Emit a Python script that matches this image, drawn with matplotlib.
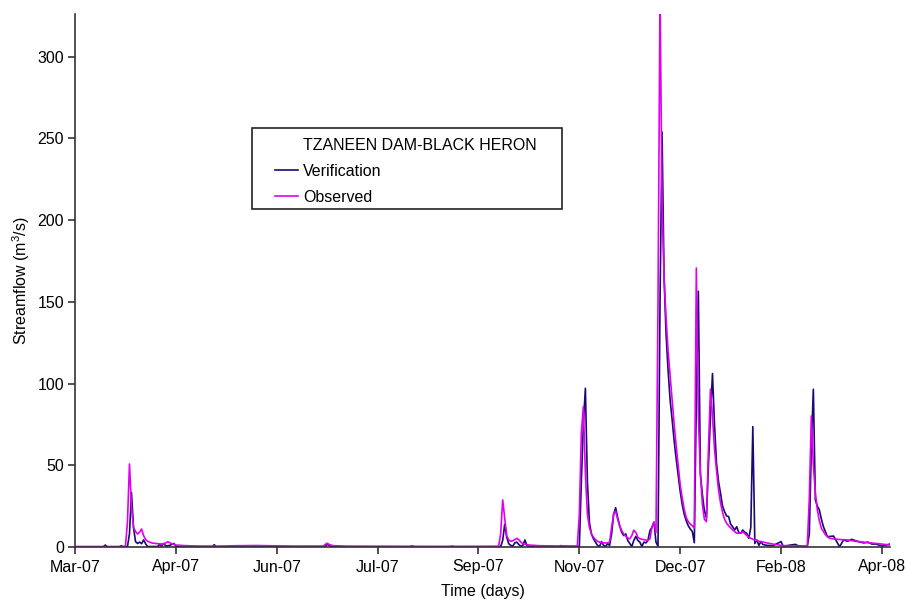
import matplotlib
matplotlib.use('Agg')
import matplotlib.pyplot as plt
import matplotlib.dates as mdates
from matplotlib.lines import Line2D
from matplotlib.patches import Rectangle
import pandas as pd

plt.rcParams['font.family'] = ['Liberation Sans', 'DejaVu Sans']
plt.rcParams['mathtext.fontset'] = 'custom'
plt.rcParams['mathtext.rm'] = 'Liberation Sans'

# record starts on 1 March 2007, days counted from there
start = pd.Timestamp('2007-03-01')

# observed streamflow (m3/s) at Tzaneen Dam - Black Heron
obs_day = [0, 24, 25, 26, 27, 28, 29, 30, 31, 32, 33, 34, 35, 36, 38, 41, 44, 46, 48, 50,
           55, 60, 70, 80, 90, 100, 110, 123, 124, 125, 126, 128, 135, 160, 180,
           210, 211, 212, 213, 214, 215, 216, 217, 219, 220, 221, 222, 225, 230, 240,
           249, 250, 251, 252, 253, 254, 255, 256, 257, 258, 259, 260, 262, 264, 265,
           266, 267, 268, 269, 270, 271, 272, 273, 274, 275, 276, 277, 278, 279, 280,
           282, 284, 285, 286, 287, 288, 289, 290, 291, 292, 293, 294, 295, 296, 297,
           298, 299, 300, 301, 302, 303, 304, 305, 306, 307, 308, 309, 310, 311, 312,
           313, 314, 315, 316, 317, 318, 319, 320, 321, 322, 323, 324, 326, 328, 330,
           331, 333, 335, 337, 340, 343, 346, 350, 354, 363, 364, 365, 366, 367, 368,
           369, 370, 372, 374, 377, 380, 383, 387, 390, 393, 397, 401, 404]
obs_flow = [0.3, 0.3, 0.6, 15, 50.8, 25, 12, 9.5, 8, 9, 11, 7, 4.5, 3.5, 2.5, 2, 1.8, 3.2, 2, 1.2,
            0.8, 0.6, 0.5, 0.8, 0.9, 0.7, 0.5, 0.5, 1.5, 2.3, 1.5, 0.8, 0.5, 0.4, 0.3,
            0.4, 8, 28.8, 18, 7, 4.3, 3.5, 3.8, 5.3, 4.5, 3, 2, 1.2, 0.8, 0.6,
            0.6, 20, 70, 85.9, 45, 20, 12, 8, 6, 4.5, 3.5, 3, 2.5, 2.5, 3,
            12, 20, 21.9, 17, 13, 10, 8, 6.5, 5.5, 5, 7, 10.3, 9, 6, 5,
            4.5, 4, 5, 12, 14.9, 8.8, 150, 340, 210, 165, 140, 120, 105, 90, 75,
            62, 50, 38, 30, 23, 18, 15.5, 14, 13, 11.5, 170.6, 80, 45, 26, 17,
            15.5, 60, 96.5, 80, 60, 47, 35, 27, 21, 17, 14.5, 13, 10.5, 8.4, 8.5,
            9.4, 7, 5.3, 4.2, 3.3, 2.5, 1.8, 1.0, 0.6, 0.5, 30, 80.2, 50, 33, 22.6,
            16, 11.4, 7.5, 5.3, 4.8, 4.5, 4.3, 3.5, 3.1, 2.6, 2.2, 1.6, 1.2]

# simulated streamflow for the verification period
ver_day = [0, 14, 15, 16, 22, 23, 24, 26, 27, 28, 29, 30, 31, 32, 33, 34, 35, 36, 41, 42,
           43, 44, 45, 47, 49, 50, 53, 56, 57, 68, 69, 70, 86, 87, 88, 91, 92, 93,
           124, 125, 126, 127, 166, 167, 168, 186, 187, 188,
           211, 212, 213, 214, 215, 216, 217, 218, 219, 220, 221, 222, 223, 224, 225,
           227, 228, 229, 240, 241, 242, 243, 244,
           250, 251, 252, 253, 254, 255, 256, 257, 258, 259, 260, 261, 262, 263, 264,
           265, 266, 267, 268, 269, 270, 271, 272, 273, 274, 276, 277, 278, 279, 280,
           281, 282, 283, 284, 285, 286, 287, 288, 289, 290, 291, 292, 293, 294, 295,
           296, 297, 298, 299, 300, 301, 302, 303, 304, 305, 306, 307, 308, 309, 310,
           311, 312, 313, 314, 315, 316, 317, 318, 319, 320, 321, 322, 323, 324, 325,
           326, 327, 328, 329, 330, 331, 332, 333, 334, 335, 336, 337, 338, 339, 340,
           341, 343, 346, 350, 351, 357, 359, 363, 364, 365, 366, 367, 368, 369, 370,
           371, 373, 376, 379, 381, 383, 385, 387, 389, 391, 393, 395, 397, 400, 402, 404]
ver_flow = [0.1, 0.1, 1.2, 0.1, 0.1, 0.8, 0.1, 0.2, 8, 33.2, 12, 3.3, 2.2, 3, 2, 4.3, 2, 0.3, 0.3, 1.6,
            0.5, 2.2, 0.6, 1.0, 2.2, 0.5, 0.3, 0.8, 0.2, 0.2, 1.4, 0.2, 0.2, 0.8, 0.2, 0.2, 0.6, 0.2,
            0.3, 1.6, 1.0, 0.2, 0.2, 0.7, 0.2, 0.2, 0.5, 0.2,
            0.2, 4, 13.9, 6, 2, 1, 0.5, 2.5, 3, 1.5, 0.5, 1, 4.3, 1, 0.3,
            0.2, 0.8, 0.2, 0.2, 0.9, 0.2, 0.7, 0.2,
            0.3, 40, 75, 97.1, 40, 15, 8, 5, 3, 1, 0.3, 3.3, 1, 0.3, 2,
            1, 8, 20, 24, 18, 13, 9, 7, 8, 4, 0.3, 4, 6.5, 4, 3,
            0.3, 3, 2.5, 4, 10, 12, 15.3, 3, 0.4, 150, 253.8, 165, 130, 108, 90,
            78, 65, 54, 44, 34, 26, 20, 16, 13, 11, 9.5, 2.6, 90, 156.4, 45,
            32, 22, 18, 50, 80, 106.1, 75, 51.2, 40, 32.8, 25, 21.6, 19, 18.6, 14,
            12.4, 10.4, 12.4, 9, 8.4, 10.4, 9, 8.4, 5.3, 12, 73.6, 2.2, 4.3, 1, 3.3,
            1.5, 1, 0.8, 3.3, 0.5, 1.6, 0.5, 0.4, 8, 60, 96.5, 28.8, 25, 22.6, 17,
            12.4, 6.3, 6.7, 0.2, 4.3, 3.5, 4.7, 3.8, 3.1, 2.5, 3, 1.8, 1.8, 0.6, 1.2, 1.8]

tick_day = [0, 50, 100, 150, 200, 250, 300, 350, 400]
y_ticks = [0, 50, 100, 150, 200, 250, 300]

ver_col = '#1a0873'
obs_col = '#e000f0'
fs = 11.5

fig = plt.figure(figsize=(9.06, 6.01), dpi=100)
ax = fig.add_axes([75 / 906, 54 / 601, 815 / 906, 533 / 601])

ax.plot(start + pd.to_timedelta(ver_day, unit='D'), ver_flow, color=ver_col, lw=1.2)
ax.plot(start + pd.to_timedelta(obs_day, unit='D'), obs_flow, color=obs_col, lw=1.2)

ax.set_xlim(start, start + pd.Timedelta(days=404))
ax.set_ylim(0, 326)
ax.set_xticks(start + pd.to_timedelta(tick_day, unit='D'))
ax.xaxis.set_major_formatter(mdates.DateFormatter('%b-%y'))
ax.set_yticks(y_ticks)

for side in ['top', 'right']:
    ax.spines[side].set_visible(False)
for side in ['left', 'bottom']:
    ax.spines[side].set_color('#333333')
    ax.spines[side].set_linewidth(1.2)
ax.tick_params(direction='out', length=5, width=1.2, color='#333333',
               labelsize=fs, pad=3)
ax.tick_params(axis='x', pad=4)

ax.set_xlabel('Time (days)', fontsize=fs, labelpad=7)
ax.set_ylabel('Streamflow (m$^3$/s)', fontsize=fs, labelpad=4)

# legend: first row is the station name with no line
handles = [Line2D([], [], linestyle='none'),
           Line2D([], [], color=ver_col, lw=1.2),
           Line2D([], [], color=obs_col, lw=1.2)]
labels = ['TZANEEN DAM-BLACK HERON', 'Verification', 'Observed']
ax.legend(handles, labels, loc='upper left', frameon=False, fontsize=fs,
          bbox_to_anchor=(275 / 906, 1 - 138 / 601), bbox_transform=fig.transFigure,
          borderpad=0, borderaxespad=0, handlelength=1.44, handletextpad=0.31,
          labelspacing=0.68)
fig.add_artist(Rectangle((252 / 906, 1 - 209 / 601), 310 / 906, 81 / 601,
                         transform=fig.transFigure, fill=False,
                         edgecolor='#222222', lw=1.2))

fig.savefig('out.png', dpi=100)
